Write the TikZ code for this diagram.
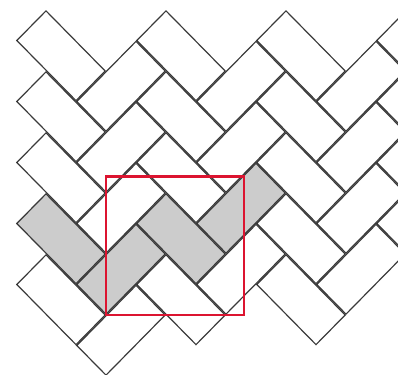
\documentclass[tikz,border=0pt]{standalone}
\usepackage{tikz}
\usepackage{xcolor}
\definecolor{grout}{HTML}{3A3A3A}
\definecolor{tilegray}{HTML}{CCCCCC}
\definecolor{frame}{HTML}{DC1430}

\tikzset{
  brick/.style={draw=grout, line width=1.7pt, line join=miter},
  window/.style={draw=frame, line width=2pt},
}

\begin{document}
\begin{tikzpicture}[x=0.75cm, y=-0.7625cm]
  \useasboundingbox (-0.5333,-1.3279) rectangle (12.7333,10.9672);
  \clip (-0.5333,-1.3279) rectangle (12.7333,10.9672);
  % shaded run of four bricks
  \fill[tilegray] (0,6) -- ++(1,-1) -- ++(2,2) -- ++(-1,1) -- cycle;
  \fill[tilegray] (2,8) -- ++(2,-2) -- ++(1,1) -- ++(-2,2) -- cycle;
  \fill[tilegray] (4,6) -- ++(1,-1) -- ++(2,2) -- ++(-1,1) -- cycle;
  \fill[tilegray] (6,6) -- ++(2,-2) -- ++(1,1) -- ++(-2,2) -- cycle;
  % bricks lying "\"
  \foreach \i/\jmax in {0/4,1/4,2/4,3/3} {
    \foreach \j in {0,...,\jmax} {
      \begin{scope}
        \clip (4*\i,2*\j) -- ++(1,-1) -- ++(2,2) -- ++(-1,1) -- cycle;
        \draw[brick] (4*\i,2*\j) -- ++(1,-1) -- ++(2,2) -- ++(-1,1) -- cycle;
      \end{scope}
    }
  }
  % bricks lying "/"
  \foreach \i/\jmax in {0/4,1/3,2/3} {
    \foreach \j in {0,...,\jmax} {
      \begin{scope}
        \clip (4*\i+2,2*\j+2) -- ++(2,-2) -- ++(1,1) -- ++(-2,2) -- cycle;
        \draw[brick] (4*\i+2,2*\j+2) -- ++(2,-2) -- ++(1,1) -- ++(-2,2) -- cycle;
      \end{scope}
    }
  }
  \draw[window] (3,4.47) rectangle (7.6,9);
\end{tikzpicture}
\end{document}
